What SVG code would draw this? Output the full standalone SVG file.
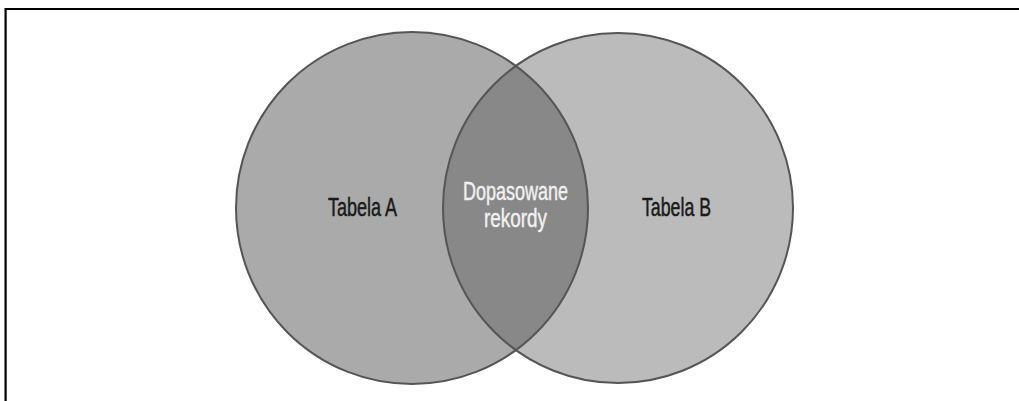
<svg xmlns="http://www.w3.org/2000/svg" width="1019" height="401" viewBox="0 0 1019 401">
<style>
.frame{stroke:#000;stroke-width:2.2;fill:none}
.ring{fill:none;stroke:#555;stroke-width:2}
.lbl{font-family:"Liberation Sans",Arial,sans-serif;font-size:25px;text-anchor:middle;fill:#1a1a1a;stroke:#1a1a1a;stroke-width:0.5}
.lbl2{font-family:"Liberation Sans",Arial,sans-serif;font-size:25px;text-anchor:middle;fill:#f2f2f2;stroke:#f2f2f2;stroke-width:0.4}
</style>
<rect width="1019" height="401" fill="#fff"/>
<g id="frame">
<path class="frame" d="M5.6 401 V9 H1019"/>
</g>
<g id="tabela-a">
<circle cx="412" cy="208" r="176" fill="#aaaaaa"/>
</g>
<g id="tabela-b">
<circle cx="618" cy="208" r="175" fill="#bbbbbb"/>
</g>
<g id="dopasowane">
<path d="M515.85 65.9 A176 176 0 0 1 515.85 350.1 A175 175 0 0 1 515.85 65.9 Z" fill="#888888"/>
</g>
<g id="outlines">
<circle class="ring" cx="412" cy="208" r="176"/>
<circle class="ring" cx="618" cy="208" r="175"/>
</g>
<g id="labels">
<text class="lbl" x="362.5" y="216" textLength="69" lengthAdjust="spacingAndGlyphs">Tabela A</text>
<text class="lbl" x="676.5" y="216" textLength="69" lengthAdjust="spacingAndGlyphs">Tabela B</text>
<text class="lbl2" x="515.5" y="200" textLength="105" lengthAdjust="spacingAndGlyphs">Dopasowane</text>
<text class="lbl2" x="515.5" y="227" textLength="63" lengthAdjust="spacingAndGlyphs">rekordy</text>
</g>
</svg>
